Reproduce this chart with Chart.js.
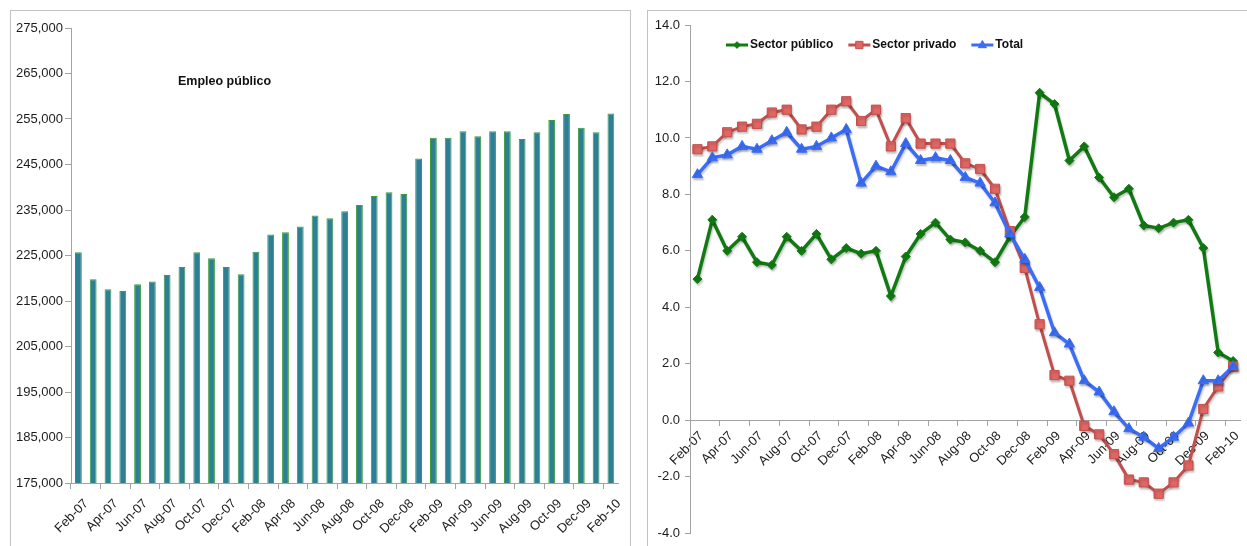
<!DOCTYPE html>
<html>
<head>
<meta charset="utf-8">
<script src="https://cdn.jsdelivr.net/npm/chart.js@4.4.1/dist/chart.umd.min.js"></script>
<style>
  html, body { margin: 0; padding: 0; background: #fff; overflow: hidden; }
  .panel { position: absolute; top: 10px; height: 560px; border: 1px solid #c2c2c2; background: #fff; overflow: hidden; }
  #left { left: 10px; width: 619px; }
  #right { left: 647px; width: 620px; }
  canvas { display: block; }
</style>
</head>
<body>
<div class="panel" id="left"><canvas id="empleo" width="618" height="535"></canvas></div>
<div class="panel" id="right"><canvas id="variacion" width="600" height="535"></canvas></div>
<script>
// months shared by both panels
const months = [
  'Feb-07', 'Mar-07', 'Apr-07', 'May-07', 'Jun-07', 'Jul-07', 'Aug-07', 'Sep-07', 'Oct-07', 'Nov-07', 'Dec-07', 'Jan-08',
  'Feb-08', 'Mar-08', 'Apr-08', 'May-08', 'Jun-08', 'Jul-08', 'Aug-08', 'Sep-08', 'Oct-08', 'Nov-08', 'Dec-08', 'Jan-09',
  'Feb-09', 'Mar-09', 'Apr-09', 'May-09', 'Jun-09', 'Jul-09', 'Aug-09', 'Sep-09', 'Oct-09', 'Nov-09', 'Dec-09', 'Jan-10',
  'Feb-10'
];

// public employment, people
const empleoPublico = [
  225700, 219800, 217600, 217200, 218700, 219300, 220700, 222500, 225700, 224400, 222500, 220900,
  225800, 229600, 230100, 231400, 233800, 233200, 234700, 236100, 238100, 238900, 238500, 246300,
  250900, 250900, 252300, 251200, 252300, 252300, 250600, 252100, 254800, 256100, 253100, 252100,
  256200
];

// year-on-year change, %
const sectorPublico = [
  5.0, 7.1, 6.0, 6.5, 5.6, 5.5, 6.5, 6.0, 6.6, 5.7, 6.1, 5.9,
  6.0, 4.4, 5.8, 6.6, 7.0, 6.4, 6.3, 6.0, 5.6, 6.5, 7.2, 11.6,
  11.2, 9.2, 9.7, 8.6, 7.9, 8.2, 6.9, 6.8, 7.0, 7.1, 6.1, 2.4,
  2.1
];
const sectorPrivado = [
  9.6, 9.7, 10.2, 10.4, 10.5, 10.9, 11.0, 10.3, 10.4, 11.0, 11.3, 10.6,
  11.0, 9.7, 10.7, 9.8, 9.8, 9.8, 9.1, 8.9, 8.2, 6.7, 5.4, 3.4,
  1.6, 1.4, -0.2, -0.5, -1.2, -2.1, -2.2, -2.6, -2.2, -1.6, 0.4, 1.2,
  1.9
];
const total = [
  8.7, 9.3, 9.4, 9.7, 9.6, 9.9, 10.2, 9.6, 9.7, 10.0, 10.3, 8.4,
  9.0, 8.8, 9.8, 9.2, 9.3, 9.2, 8.6, 8.4, 7.7, 6.6, 5.7, 4.7,
  3.1, 2.7, 1.4, 1.0, 0.3, -0.3, -0.6, -1.0, -0.6, -0.1, 1.4, 1.4,
  1.9
];

const empleoRange = [175000, 275000, 10000];
const variacionRange = [-4, 14, 2];

const FONT = '"Liberation Sans", Arial, Helvetica, sans-serif';
Chart.defaults.font.family = FONT;
Chart.defaults.color = '#1c1c1c';
Chart.defaults.animation = false;

const axisGray = '#a3a3a3';
// small tick marks only every second month
const everyOther = ctx => (ctx.index % 2 === 0 ? axisGray : 'rgba(0,0,0,0)');
const monthLabel = (v, i) => (i % 2 === 0 ? months[i] : '');

const caption = {
  id: 'caption',
  afterDraw(chart) {
    const ctx = chart.ctx;
    ctx.save();
    ctx.font = 'bold 12.5px ' + FONT;
    ctx.fillStyle = '#111';
    ctx.textBaseline = 'middle';
    ctx.fillText('Empleo público', 167, 71);
    ctx.restore();
  }
};

function marker(ctx, style, x, y, r) {
  ctx.beginPath();
  if (style === 'rectRot') {
    ctx.moveTo(x, y - r); ctx.lineTo(x + r, y); ctx.lineTo(x, y + r); ctx.lineTo(x - r, y);
  } else if (style === 'rect') {
    ctx.rect(x - r * 0.75, y - r * 0.75, r * 1.5, r * 1.5);
  } else {
    ctx.moveTo(x, y - r); ctx.lineTo(x + r * 0.9, y + r * 0.6); ctx.lineTo(x - r * 0.9, y + r * 0.6);
  }
  ctx.closePath();
  ctx.fill();
  ctx.stroke();
}

const seriesLegend = {
  id: 'seriesLegend',
  afterDraw(chart) {
    const ctx = chart.ctx;
    let x = 78;
    const y = 34;
    ctx.save();
    ctx.font = 'bold 12px ' + FONT;
    ctx.textBaseline = 'middle';
    chart.data.datasets.forEach(ds => {
      ctx.strokeStyle = ds.borderColor;
      ctx.lineWidth = 3;
      ctx.beginPath();
      ctx.moveTo(x, y);
      ctx.lineTo(x + 22, y);
      ctx.stroke();
      ctx.fillStyle = ds.backgroundColor;
      ctx.strokeStyle = ds.pointBorderColor || ds.borderColor;
      ctx.lineWidth = 1;
      marker(ctx, ds.pointStyle, x + 11, y, ds.pointRadius * 0.75);
      ctx.fillStyle = '#111';
      ctx.fillText(ds.label, x + 24, y);
      x += 24 + ctx.measureText(ds.label).width + 15;
    });
    ctx.restore();
  }
};

const softShadow = {
  id: 'softShadow',
  beforeDatasetsDraw(chart) {
    const ctx = chart.ctx;
    ctx.save();
    ctx.shadowColor = 'rgba(0,0,0,0.22)';
    ctx.shadowBlur = 2;
    ctx.shadowOffsetX = 1;
    ctx.shadowOffsetY = 2;
  },
  afterDatasetsDraw(chart) {
    chart.ctx.restore();
  }
};

new Chart(document.getElementById('empleo'), {
  type: 'bar',
  data: {
    labels: months,
    datasets: [{
      data: empleoPublico,
      backgroundColor: '#2c7f94',
      borderColor: '#3c9c3c',
      borderWidth: 1,
      categoryPercentage: 1,
      barPercentage: 0.46
    }]
  },
  options: {
    responsive: false,
    layout: { padding: { top: 17, right: 6, bottom: 0, left: 0 } },
    plugins: { legend: { display: false }, tooltip: { enabled: false } },
    scales: {
      x: {
        offset: true,
        grid: { offset: true, drawOnChartArea: false, tickLength: 6, tickColor: everyOther },
        border: { color: axisGray },
        ticks: {
          autoSkip: false, maxRotation: 45, minRotation: 45, padding: 7, labelOffset: 8,
          font: { size: 13 }, callback: monthLabel
        },
        afterFit: s => { s.height = 63; }
      },
      y: {
        min: empleoRange[0],
        max: empleoRange[1],
        grid: { drawOnChartArea: false, tickLength: 6, color: axisGray },
        border: { color: axisGray },
        ticks: { stepSize: empleoRange[2], padding: 2, font: { size: 13 }, callback: v => v.toLocaleString('en-US') },
        afterFit: s => { s.width = 60; }
      }
    }
  },
  plugins: [caption]
});

new Chart(document.getElementById('variacion'), {
  type: 'line',
  data: {
    labels: months,
    datasets: [
      {
        label: 'Sector público', data: sectorPublico, order: 2,
        borderColor: '#127a12', backgroundColor: '#127a12', borderWidth: 3.5,
        pointStyle: 'rectRot', pointRadius: 4.5, pointBorderWidth: 1
      },
      {
        label: 'Sector privado', data: sectorPrivado, order: 1,
        borderColor: '#c0504d', backgroundColor: '#e06663', pointBorderColor: '#c24f4c', borderWidth: 3,
        pointStyle: 'rect', pointRadius: 6.5, pointBorderWidth: 1
      },
      {
        label: 'Total', data: total, order: 0,
        borderColor: '#3b6df5', backgroundColor: '#3b6df5', borderWidth: 3.5,
        pointStyle: 'triangle', pointRadius: 6, pointBorderWidth: 1
      }
    ]
  },
  options: {
    responsive: false,
    layout: { padding: { top: 14, right: 1, bottom: 8, left: 0 } },
    plugins: { legend: { display: false }, tooltip: { enabled: false } },
    scales: {
      x: {
        axis: 'x',
        position: { y: 0 },
        offset: true,
        grid: { offset: true, drawOnChartArea: false, tickLength: 5, tickColor: everyOther },
        border: { color: axisGray },
        ticks: {
          autoSkip: false, maxRotation: 45, minRotation: 45, padding: 3, labelOffset: 4,
          font: { size: 13 }, callback: monthLabel
        }
      },
      y: {
        min: variacionRange[0],
        max: variacionRange[1],
        grid: { drawOnChartArea: false, tickLength: 5, color: axisGray },
        border: { color: axisGray },
        ticks: { stepSize: variacionRange[2], padding: 5, font: { size: 13 }, callback: v => v.toFixed(1) },
        afterFit: s => { s.width = 42; }
      }
    }
  },
  plugins: [softShadow, seriesLegend]
});
</script>
</body>
</html>
